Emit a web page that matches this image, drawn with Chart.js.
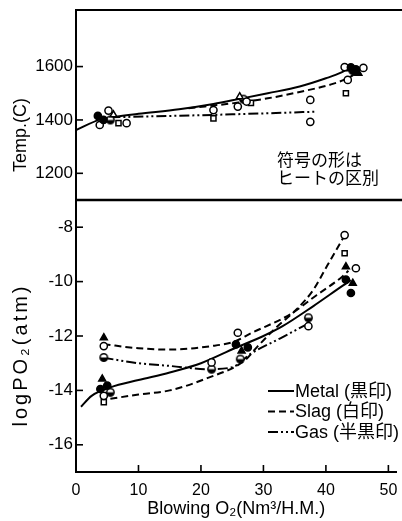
<!DOCTYPE html>
<html><head><meta charset="utf-8">
<style>html,body{margin:0;padding:0;background:#fff}</style>
<script src="https://cdn.jsdelivr.net/npm/chart.js"></script>
</head><body>
<canvas id="c" width="402" height="521"></canvas>
<script>
// ---------- tick labels ----------
const xTicks = [0, 10, 20, 30, 40, 50];
const tempTicks = [1200, 1400, 1600];
const logpTicks = [-16, -15, -14, -13, -12, -11, -10, -9, -8];
const seriesNames = ['Metal (黒印)', 'Slag (白印)', 'Gas (半黒印)'];
const xTitle = 'Blowing O₂(Nm³/H.M.)';
const tempTitle = 'Temp.(C)';
const logpTitle = 'logPO₂(atm)';
const noteLines = ['符号の形は', 'ヒートの区別'];

// ---------- curves: [Blowing O2, value] ----------
const tempMetal = [[0,1362],[4,1403],[6,1411],[10,1423],[16.5,1440],[22,1460],[26,1478],[30.7,1500],[35.8,1525],[40,1556],[42.5,1578],[44.3,1602]];
const tempSlag  = [[18,1444],[26,1465],[30.7,1481],[35.8,1505],[41.1,1535],[43.8,1560],[45.1,1581]];
const tempGas   = [[5.5,1410],[15,1415],[25,1421],[32,1426],[38.5,1431]];
const logpMetal = [[0.8,-14.6],[2.5,-14.2],[5.5,-13.89],[10,-13.62],[15,-13.34],[20,-13.0],[25.4,-12.45],[30,-12.0],[33,-11.65],[38,-10.9],[42.7,-10.15],[44,-9.95]];
const logpSlagA = [[4.4,-12.3],[10,-12.45],[15,-12.5],[21.7,-12.37],[25.4,-12.2],[28,-11.9],[34.3,-11.2],[38.5,-10.5],[42.7,-9.8],[43.6,-9.6]];
const logpSlagB = [[5.5,-14.31],[10,-14.15],[15,-14.0],[21,-13.55],[27,-12.9],[29,-12.4],[32,-11.7],[35.4,-11.0],[38,-10.3],[40,-9.5],[43,-8.3]];
const logpGas   = [[4.4,-12.8],[10,-13.0],[15,-13.1],[21,-13.22],[25,-13.15],[28,-12.65],[33,-12.05],[37.5,-11.5]];

// ---------- measured points ----------
const tempFilledCircle = [[3.5,1415],[4.4,1400],[44,1597],[44.8,1590]];
const tempFilledTri    = [[45.2,1575]];
const tempOpenCircle   = [[3.8,1381],[5.2,1435],[8.1,1388],[22,1437],[25.9,1450],[27.3,1469],[37.5,1475],[37.5,1393],[43.5,1550],[46,1595],[43,1598]];
const tempOpenSquare   = [[6.8,1388],[22,1406],[28,1464],[43.2,1500],[43.7,1594]];
const tempOpenTri      = [[6,1419],[26.2,1487]];
const tempHalfCircle   = [[5.5,1400],[26.8,1478],[44.3,1585]];

const logpFilledCircle = [[5,-13.82],[3.9,-13.95],[25.6,-12.31],[27.5,-12.42],[43.2,-9.93],[44,-10.42]];
const logpFilledTri    = [[4.45,-12.06],[4.2,-13.58],[26.5,-12.55],[43.2,-9.45],[44.3,-10.06]];
const logpOpenCircle   = [[4.45,-12.37],[4.45,-14.2],[21.7,-12.97],[25.9,-11.88],[37.2,-11.64],[43,-8.29],[44.8,-9.51]];
const logpOpenSquare   = [[4.45,-14.43],[43,-8.96]];
const logpHalfCircle   = [[4.45,-12.79],[5.5,-14.07],[21.7,-13.22],[26.3,-12.85],[37.2,-11.33]];

const pts = a => a.map(([x, y]) => ({x, y}));

function halfMark() {
  const c = document.createElement('canvas'); c.width = 11; c.height = 11;
  const g = c.getContext('2d');
  g.fillStyle = '#fff'; g.beginPath(); g.arc(5.5,5.5,3.7,0,2*Math.PI); g.fill();
  g.fillStyle = '#000'; g.beginPath(); g.arc(5.5,5.5,3.7,0,Math.PI); g.fill();
  g.lineWidth = 1.5; g.strokeStyle = '#000'; g.beginPath(); g.arc(5.5,5.5,3.7,0,2*Math.PI); g.stroke();
  return c;
}
const HALF = halfMark();

const DASH_SLAG = [7, 4];
const DASH_GAS = [10, 3, 2, 3, 2, 3];

function marker(data, axis, style, filled) {
  return {type: 'scatter', data: pts(data), yAxisID: axis, pointStyle: style,
    pointRadius: style === 'triangle' ? 4 : 3.6, borderWidth: 1.5,
    pointBorderColor: '#000', pointBackgroundColor: filled ? '#000' : '#fff', showLine: false};
}
function curve(data, axis, dash, label) {
  return {type: 'scatter', label, data: pts(data), yAxisID: axis, showLine: true,
    borderColor: '#000', borderWidth: 2, borderDash: dash, pointRadius: 0,
    cubicInterpolationMode: 'monotone', fill: false};
}

const datasets = [
  marker(tempFilledCircle, 'yT', 'circle', true),
  marker(tempFilledTri, 'yT', 'triangle', true),
  marker(tempOpenCircle, 'yT', 'circle', false),
  marker(tempOpenSquare, 'yT', 'rect', false),
  marker(tempOpenTri, 'yT', 'triangle', false),
  marker(tempHalfCircle, 'yT', HALF, false),
  marker(logpFilledCircle, 'yP', 'circle', true),
  marker(logpFilledTri, 'yP', 'triangle', true),
  marker(logpOpenCircle, 'yP', 'circle', false),
  marker(logpOpenSquare, 'yP', 'rect', false),
  marker(logpHalfCircle, 'yP', HALF, false),
  curve(tempMetal, 'yT', [], seriesNames[0]),
  curve(tempSlag, 'yT', DASH_SLAG, seriesNames[1]),
  curve(tempGas, 'yT', DASH_GAS, seriesNames[2]),
  curve(logpMetal, 'yP', [], seriesNames[0]),
  curve(logpSlagA, 'yP', DASH_SLAG, seriesNames[1]),
  curve(logpSlagB, 'yP', DASH_SLAG, seriesNames[1]),
  curve(logpGas, 'yP', DASH_GAS, seriesNames[2])
];

const FONT = "'Liberation Sans', 'Noto Sans CJK JP', sans-serif";
const JFONT = "'Noto Sans CJK JP', sans-serif";
Chart.defaults.font.family = FONT;
Chart.defaults.color = '#000';

const framePlugin = {
  id: 'frame',
  afterDraw(chart) {
    const {ctx, chartArea: a, scales} = chart;
    const yT = scales.yT, yP = scales.yP, x = scales.x;
    const seg = (x1, y1, x2, y2) => { ctx.beginPath(); ctx.moveTo(x1, y1); ctx.lineTo(x2, y2); ctx.stroke(); };
    ctx.save();
    ctx.strokeStyle = '#000';
    ctx.lineWidth = 2; seg(a.left - 1, a.top, chart.width, a.top);
    ctx.lineWidth = 2.5; seg(a.left - 1, yT.bottom, chart.width, yT.bottom);
    ctx.lineWidth = 1.6;
    yT.ticks.forEach(t => { const p = yT.getPixelForValue(t.value); seg(a.left, p, a.left + 7, p); });
    yP.ticks.forEach(t => { const p = yP.getPixelForValue(t.value); seg(a.left, p, a.left + (t.value % 2 === 0 ? 7 : 4), p); });
    x.ticks.forEach(t => { if (t.value === 0) return; const p = x.getPixelForValue(t.value); seg(p, a.bottom, p, a.bottom - 7); });

    // y axis titles
    ctx.fillStyle = '#000'; ctx.textAlign = 'center'; ctx.textBaseline = 'middle';
    ctx.save(); ctx.translate(21, 135); ctx.rotate(-Math.PI / 2);
    ctx.font = '18px ' + FONT; ctx.fillText(tempTitle, 0, 0); ctx.restore();
    ctx.save(); ctx.translate(21, 355); ctx.rotate(-Math.PI / 2);
    ctx.font = '20px ' + FONT; ctx.letterSpacing = '3px'; ctx.fillText(logpTitle, 0, 0); ctx.restore();

    // note in the upper panel
    ctx.textAlign = 'left'; ctx.font = '17px ' + JFONT;
    ctx.fillText(noteLines[0], 277, 160);
    ctx.fillText(noteLines[1], 277, 178);

    // legend
    const rows = [[], DASH_SLAG, DASH_GAS];
    ctx.font = '18px ' + FONT;
    rows.forEach((d, i) => {
      const yy = 391 + i * 20.5;
      ctx.setLineDash(d); ctx.lineWidth = 2; seg(268, yy, 294, yy); ctx.setLineDash([]);
      ctx.fillText(seriesNames[i], 295, yy + 1);
    });
    ctx.restore();
  }
};

const fitY = s => { s.width = 76; s.paddingTop = 0; s.paddingBottom = 0; };
const fitX = s => { s.height = 49; s.paddingLeft = 0; s.paddingRight = 0; };

new Chart(document.getElementById('c'), {
  type: 'scatter',
  data: {datasets},
  options: {
    responsive: false, animation: false, devicePixelRatio: 1,
    layout: {padding: {top: 10, right: 0, left: 0, bottom: 0}},
    plugins: {legend: {display: false}, tooltip: {enabled: false}},
    scales: {
      x: {type: 'linear', position: 'bottom', min: 0, max: 51.3,
        afterBuildTicks: s => { s.ticks = xTicks.map(v => ({value: v})); },
        afterFit: fitX,
        grid: {display: false, drawTicks: false},
        border: {display: true, color: '#000', width: 2},
        ticks: {padding: 9, font: {size: 16}, color: '#000', callback: v => String(v)},
        title: {display: true, text: xTitle, font: {size: 18}, padding: {top: 0, bottom: 1}, color: '#000'}
      },
      yP: {type: 'linear', position: 'left', stack: 'v', stackWeight: 272, min: -17, max: -7,
        afterBuildTicks: s => { s.ticks = logpTicks.map(v => ({value: v})); },
        afterFit: fitY,
        grid: {display: false, drawTicks: false},
        border: {display: true, color: '#000', width: 2},
        ticks: {padding: 3, font: {size: 17}, color: '#000', callback: v => (v % 2 === 0 ? String(v) : '')}
      },
      yT: {type: 'linear', position: 'left', stack: 'v', stackWeight: 190, min: 1100, max: 1812,
        afterBuildTicks: s => { s.ticks = tempTicks.map(v => ({value: v})); },
        afterFit: fitY,
        grid: {display: false, drawTicks: false},
        border: {display: true, color: '#000', width: 2},
        ticks: {padding: 3, font: {size: 17}, color: '#000', callback: v => String(v)}
      }
    }
  },
  plugins: [framePlugin]
});
</script>
</body></html>
